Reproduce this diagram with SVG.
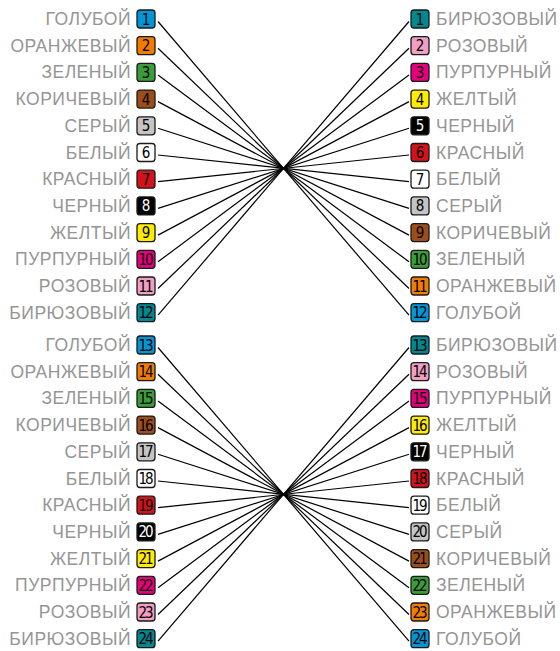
<svg xmlns="http://www.w3.org/2000/svg" width="560" height="651" viewBox="0 0 560 651">
<style>
.lbl{font-family:"Liberation Sans",Arial,sans-serif;font-size:17.5px;fill:#959595;letter-spacing:0.5px}
.l{text-anchor:end}
.num{font-family:"DejaVu Sans Condensed","DejaVu Sans",sans-serif;font-size:15px;fill:#000;text-anchor:middle}
.d2{font-size:15px;letter-spacing:-2px}
.box{stroke:#1a1a1a;stroke-width:1.3}
.wn{fill:#fff}
.wt{fill:#fff}
#connectors line{stroke:#000;stroke-width:1.2}
</style>
<rect width="560" height="651" fill="#fff"/>
<g id="connectors">
<line x1="158" y1="21.5" x2="409" y2="315.2"/>
<line x1="158" y1="48.2" x2="409" y2="288.5"/>
<line x1="158" y1="74.9" x2="409" y2="261.8"/>
<line x1="158" y1="101.6" x2="409" y2="235.1"/>
<line x1="158" y1="128.3" x2="409" y2="208.4"/>
<line x1="158" y1="155" x2="409" y2="181.7"/>
<line x1="158" y1="181.7" x2="409" y2="155"/>
<line x1="158" y1="208.4" x2="409" y2="128.3"/>
<line x1="158" y1="235.1" x2="409" y2="101.6"/>
<line x1="158" y1="261.8" x2="409" y2="74.9"/>
<line x1="158" y1="288.5" x2="409" y2="48.2"/>
<line x1="158" y1="315.2" x2="409" y2="21.5"/>
<line x1="158" y1="347.5" x2="409" y2="641.2"/>
<line x1="158" y1="374.2" x2="409" y2="614.5"/>
<line x1="158" y1="400.9" x2="409" y2="587.8"/>
<line x1="158" y1="427.6" x2="409" y2="561.1"/>
<line x1="158" y1="454.3" x2="409" y2="534.4"/>
<line x1="158" y1="481" x2="409" y2="507.7"/>
<line x1="158" y1="507.7" x2="409" y2="481"/>
<line x1="158" y1="534.4" x2="409" y2="454.3"/>
<line x1="158" y1="561.1" x2="409" y2="427.6"/>
<line x1="158" y1="587.8" x2="409" y2="400.9"/>
<line x1="158" y1="614.5" x2="409" y2="374.2"/>
<line x1="158" y1="641.2" x2="409" y2="347.5"/>
</g>
<!-- left block 1 -->
<g id="L1"><text class="lbl l" x="131" y="25">ГОЛУБОЙ</text><rect class="box" x="137" y="10" width="18" height="18" rx="3" fill="#0096d6"/><text class="num" x="146" y="24.5">1</text></g>
<g id="L2"><text class="lbl l" x="131" y="51.7">ОРАНЖЕВЫЙ</text><rect class="box" x="137" y="36.7" width="18" height="18" rx="3" fill="#f07d00"/><text class="num" x="146" y="51.2">2</text></g>
<g id="L3"><text class="lbl l" x="131" y="78.4">ЗЕЛЕНЫЙ</text><rect class="box" x="137" y="63.4" width="18" height="18" rx="3" fill="#3a9d3a"/><text class="num" x="146" y="77.9">3</text></g>
<g id="L4"><text class="lbl l" x="131" y="105.1">КОРИЧЕВЫЙ</text><rect class="box" x="137" y="90.1" width="18" height="18" rx="3" fill="#9c4e1a"/><text class="num" x="146" y="104.6">4</text></g>
<g id="L5"><text class="lbl l" x="131" y="131.8">СЕРЫЙ</text><rect class="box" x="137" y="116.8" width="18" height="18" rx="3" fill="#c4c4c4"/><text class="num" x="146" y="131.3">5</text></g>
<g id="L6"><text class="lbl l" x="131" y="158.5">БЕЛЫЙ</text><rect class="box wn" x="137" y="143.5" width="18" height="18" rx="3"/><text class="num" x="146" y="158">6</text></g>
<g id="L7"><text class="lbl l" x="131" y="185.2">КРАСНЫЙ</text><rect class="box" x="137" y="170.2" width="18" height="18" rx="3" fill="#d5121b"/><text class="num" x="146" y="184.7">7</text></g>
<g id="L8"><text class="lbl l" x="131" y="211.9">ЧЕРНЫЙ</text><rect class="box" x="137" y="196.9" width="18" height="18" rx="3" fill="#000"/><text class="num wt" x="146" y="211.4">8</text></g>
<g id="L9"><text class="lbl l" x="131" y="238.6">ЖЕЛТЫЙ</text><rect class="box" x="137" y="223.6" width="18" height="18" rx="3" fill="#ffec00"/><text class="num" x="146" y="238.1">9</text></g>
<g id="L10"><text class="lbl l" x="131" y="265.3">ПУРПУРНЫЙ</text><rect class="box" x="137" y="250.3" width="18" height="18" rx="3" fill="#e4007c"/><text class="num d2" x="145" y="264.8">10</text></g>
<g id="L11"><text class="lbl l" x="131" y="292">РОЗОВЫЙ</text><rect class="box" x="137" y="277" width="18" height="18" rx="3" fill="#f19ec3"/><text class="num d2" x="145" y="291.5">11</text></g>
<g id="L12"><text class="lbl l" x="131" y="318.7">БИРЮЗОВЫЙ</text><rect class="box" x="137" y="303.7" width="18" height="18" rx="3" fill="#00878f"/><text class="num d2" x="145" y="318.2">12</text></g>
<!-- right block 1 -->
<g id="R1"><rect class="box" x="411" y="10" width="18" height="18" rx="3" fill="#00878f"/><text class="num" x="420" y="24.5">1</text><text class="lbl" x="436" y="25">БИРЮЗОВЫЙ</text></g>
<g id="R2"><rect class="box" x="411" y="36.7" width="18" height="18" rx="3" fill="#f19ec3"/><text class="num" x="420" y="51.2">2</text><text class="lbl" x="436" y="51.7">РОЗОВЫЙ</text></g>
<g id="R3"><rect class="box" x="411" y="63.4" width="18" height="18" rx="3" fill="#e4007c"/><text class="num" x="420" y="77.9">3</text><text class="lbl" x="436" y="78.4">ПУРПУРНЫЙ</text></g>
<g id="R4"><rect class="box" x="411" y="90.1" width="18" height="18" rx="3" fill="#ffec00"/><text class="num" x="420" y="104.6">4</text><text class="lbl" x="436" y="105.1">ЖЕЛТЫЙ</text></g>
<g id="R5"><rect class="box" x="411" y="116.8" width="18" height="18" rx="3" fill="#000"/><text class="num wt" x="420" y="131.3">5</text><text class="lbl" x="436" y="131.8">ЧЕРНЫЙ</text></g>
<g id="R6"><rect class="box" x="411" y="143.5" width="18" height="18" rx="3" fill="#d5121b"/><text class="num" x="420" y="158">6</text><text class="lbl" x="436" y="158.5">КРАСНЫЙ</text></g>
<g id="R7"><rect class="box wn" x="411" y="170.2" width="18" height="18" rx="3"/><text class="num" x="420" y="184.7">7</text><text class="lbl" x="436" y="185.2">БЕЛЫЙ</text></g>
<g id="R8"><rect class="box" x="411" y="196.9" width="18" height="18" rx="3" fill="#c4c4c4"/><text class="num" x="420" y="211.4">8</text><text class="lbl" x="436" y="211.9">СЕРЫЙ</text></g>
<g id="R9"><rect class="box" x="411" y="223.6" width="18" height="18" rx="3" fill="#9c4e1a"/><text class="num" x="420" y="238.1">9</text><text class="lbl" x="436" y="238.6">КОРИЧЕВЫЙ</text></g>
<g id="R10"><rect class="box" x="411" y="250.3" width="18" height="18" rx="3" fill="#3a9d3a"/><text class="num d2" x="419" y="264.8">10</text><text class="lbl" x="436" y="265.3">ЗЕЛЕНЫЙ</text></g>
<g id="R11"><rect class="box" x="411" y="277" width="18" height="18" rx="3" fill="#f07d00"/><text class="num d2" x="419" y="291.5">11</text><text class="lbl" x="436" y="292">ОРАНЖЕВЫЙ</text></g>
<g id="R12"><rect class="box" x="411" y="303.7" width="18" height="18" rx="3" fill="#0096d6"/><text class="num d2" x="419" y="318.2">12</text><text class="lbl" x="436" y="318.7">ГОЛУБОЙ</text></g>
<!-- left block 2 -->
<g id="L13"><text class="lbl l" x="131" y="351">ГОЛУБОЙ</text><rect class="box" x="137" y="336" width="18" height="18" rx="3" fill="#0096d6"/><text class="num d2" x="145" y="350.5">13</text></g>
<g id="L14"><text class="lbl l" x="131" y="377.7">ОРАНЖЕВЫЙ</text><rect class="box" x="137" y="362.7" width="18" height="18" rx="3" fill="#f07d00"/><text class="num d2" x="145" y="377.2">14</text></g>
<g id="L15"><text class="lbl l" x="131" y="404.4">ЗЕЛЕНЫЙ</text><rect class="box" x="137" y="389.4" width="18" height="18" rx="3" fill="#3a9d3a"/><text class="num d2" x="145" y="403.9">15</text></g>
<g id="L16"><text class="lbl l" x="131" y="431.1">КОРИЧЕВЫЙ</text><rect class="box" x="137" y="416.1" width="18" height="18" rx="3" fill="#9c4e1a"/><text class="num d2" x="145" y="430.6">16</text></g>
<g id="L17"><text class="lbl l" x="131" y="457.8">СЕРЫЙ</text><rect class="box" x="137" y="442.8" width="18" height="18" rx="3" fill="#c4c4c4"/><text class="num d2" x="145" y="457.3">17</text></g>
<g id="L18"><text class="lbl l" x="131" y="484.5">БЕЛЫЙ</text><rect class="box wn" x="137" y="469.5" width="18" height="18" rx="3"/><text class="num d2" x="145" y="484">18</text></g>
<g id="L19"><text class="lbl l" x="131" y="511.2">КРАСНЫЙ</text><rect class="box" x="137" y="496.2" width="18" height="18" rx="3" fill="#d5121b"/><text class="num d2" x="145" y="510.7">19</text></g>
<g id="L20"><text class="lbl l" x="131" y="537.9">ЧЕРНЫЙ</text><rect class="box" x="137" y="522.9" width="18" height="18" rx="3" fill="#000"/><text class="num d2 wt" x="145" y="537.4">20</text></g>
<g id="L21"><text class="lbl l" x="131" y="564.6">ЖЕЛТЫЙ</text><rect class="box" x="137" y="549.6" width="18" height="18" rx="3" fill="#ffec00"/><text class="num d2" x="145" y="564.1">21</text></g>
<g id="L22"><text class="lbl l" x="131" y="591.3">ПУРПУРНЫЙ</text><rect class="box" x="137" y="576.3" width="18" height="18" rx="3" fill="#e4007c"/><text class="num d2" x="145" y="590.8">22</text></g>
<g id="L23"><text class="lbl l" x="131" y="618">РОЗОВЫЙ</text><rect class="box" x="137" y="603" width="18" height="18" rx="3" fill="#f19ec3"/><text class="num d2" x="145" y="617.5">23</text></g>
<g id="L24"><text class="lbl l" x="131" y="644.7">БИРЮЗОВЫЙ</text><rect class="box" x="137" y="629.7" width="18" height="18" rx="3" fill="#00878f"/><text class="num d2" x="145" y="644.2">24</text></g>
<!-- right block 2 -->
<g id="R13"><rect class="box" x="411" y="336" width="18" height="18" rx="3" fill="#00878f"/><text class="num d2" x="419" y="350.5">13</text><text class="lbl" x="436" y="351">БИРЮЗОВЫЙ</text></g>
<g id="R14"><rect class="box" x="411" y="362.7" width="18" height="18" rx="3" fill="#f19ec3"/><text class="num d2" x="419" y="377.2">14</text><text class="lbl" x="436" y="377.7">РОЗОВЫЙ</text></g>
<g id="R15"><rect class="box" x="411" y="389.4" width="18" height="18" rx="3" fill="#e4007c"/><text class="num d2" x="419" y="403.9">15</text><text class="lbl" x="436" y="404.4">ПУРПУРНЫЙ</text></g>
<g id="R16"><rect class="box" x="411" y="416.1" width="18" height="18" rx="3" fill="#ffec00"/><text class="num d2" x="419" y="430.6">16</text><text class="lbl" x="436" y="431.1">ЖЕЛТЫЙ</text></g>
<g id="R17"><rect class="box" x="411" y="442.8" width="18" height="18" rx="3" fill="#000"/><text class="num d2 wt" x="419" y="457.3">17</text><text class="lbl" x="436" y="457.8">ЧЕРНЫЙ</text></g>
<g id="R18"><rect class="box" x="411" y="469.5" width="18" height="18" rx="3" fill="#d5121b"/><text class="num d2" x="419" y="484">18</text><text class="lbl" x="436" y="484.5">КРАСНЫЙ</text></g>
<g id="R19"><rect class="box wn" x="411" y="496.2" width="18" height="18" rx="3"/><text class="num d2" x="419" y="510.7">19</text><text class="lbl" x="436" y="511.2">БЕЛЫЙ</text></g>
<g id="R20"><rect class="box" x="411" y="522.9" width="18" height="18" rx="3" fill="#c4c4c4"/><text class="num d2" x="419" y="537.4">20</text><text class="lbl" x="436" y="537.9">СЕРЫЙ</text></g>
<g id="R21"><rect class="box" x="411" y="549.6" width="18" height="18" rx="3" fill="#9c4e1a"/><text class="num d2" x="419" y="564.1">21</text><text class="lbl" x="436" y="564.6">КОРИЧЕВЫЙ</text></g>
<g id="R22"><rect class="box" x="411" y="576.3" width="18" height="18" rx="3" fill="#3a9d3a"/><text class="num d2" x="419" y="590.8">22</text><text class="lbl" x="436" y="591.3">ЗЕЛЕНЫЙ</text></g>
<g id="R23"><rect class="box" x="411" y="603" width="18" height="18" rx="3" fill="#f07d00"/><text class="num d2" x="419" y="617.5">23</text><text class="lbl" x="436" y="618">ОРАНЖЕВЫЙ</text></g>
<g id="R24"><rect class="box" x="411" y="629.7" width="18" height="18" rx="3" fill="#0096d6"/><text class="num d2" x="419" y="644.2">24</text><text class="lbl" x="436" y="644.7">ГОЛУБОЙ</text></g>
</svg>
